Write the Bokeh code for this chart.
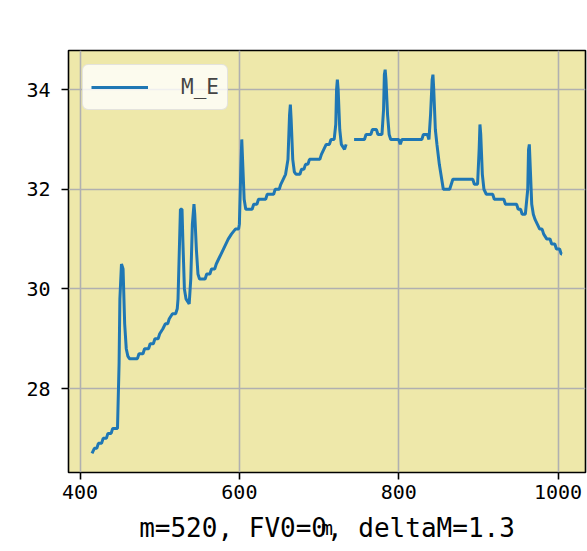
import math
from bokeh.plotting import figure
from bokeh.models import Range1d, FixedTicker, LinearAxis
from bokeh.embed import file_html
from bokeh.resources import INLINE

NAN = float("nan")

m_vals = [415, 418, 421, 423, 427, 429, 433, 435, 439, 441, 447, 449, 450, 452, 454, 456, 458, 460, 462,
          472, 474, 479, 481, 486, 488, 492, 494, 498, 500, 504, 507, 510, 512, 516, 520, 522, 523, 525,
          526, 528, 529, 531, 533, 535, 537, 539, 541, 543, 544, 546, 548, 550, 557, 559, 563, 565, 569,
          571, 574, 577, 580, 583, 586, 590, 595, 599, 600, 602, 603, 604, 606, 608, 616, 618, 622, 624,
          633, 635, 643, 645, 650, 652, 655, 658, 661, 663, 664, 665, 667, 669, 671, 676, 678, 681, 683,
          686, 688, 701, 703, 706, 709, 713, 715, 719, 721, 722, 723, 724, 726, 728, 730, 732, 734, 739,
          744, 757, 759, 765, 767, 772, 774, 779, 781, 782, 783, 784, 786, 788, 790, 800, 802, 804, 829,
          831, 836, 838, 840, 842, 843, 844, 846, 848, 851, 854, 856, 864, 866, 868, 893, 895, 899, 901,
          902, 903, 905, 907, 910, 918, 920, 932, 934, 948, 950, 953, 955, 959, 962, 963, 964, 965, 967,
          969, 971, 974, 977, 980, 982, 986, 990, 992, 996, 998, 1002, 1004, 1005]

me_vals = [26.7, 26.8, 26.8, 26.9, 26.9, 27.0, 27.0, 27.1, 27.1, 27.2, 27.2, 28.5, 29.8, 30.5, 30.4, 29.3, 28.8, 28.65, 28.6,
           28.6, 28.7, 28.7, 28.8, 28.8, 28.9, 28.9, 29.0, 29.0, 29.1, 29.2, 29.3, 29.3, 29.4, 29.5, 29.5, 29.6, 29.8, 31.0,
           31.6, 31.6, 31.0, 30.0, 29.8, 29.75, 29.7, 30.2, 31.3, 31.7, 31.5, 30.8, 30.3, 30.2, 30.2, 30.3, 30.3, 30.4, 30.4,
           30.5, 30.6, 30.7, 30.8, 30.9, 31.0, 31.1, 31.2, 31.2, 31.3, 32.5, 33.0, 32.6, 31.8, 31.6, 31.6, 31.7, 31.7, 31.8,
           31.8, 31.9, 31.9, 32.0, 32.0, 32.1, 32.2, 32.3, 32.6, 33.5, 33.7, 33.4, 32.6, 32.35, 32.3, 32.3, 32.4, 32.4, 32.5,
           32.5, 32.6, 32.6, 32.7, 32.8, 32.9, 32.9, 33.0, 33.0, 33.3, 34.0, 34.2, 34.0, 33.2, 32.9, 32.85, 32.8, 32.9, NAN,
           33.0, 33.0, 33.1, 33.1, 33.2, 33.2, 33.1, 33.1, 33.6, 34.3, 34.4, 34.2, 33.5, 33.1, 33.0, 33.0, 32.9, 33.0, 33.0,
           33.1, 33.1, 33.0, 33.5, 34.2, 34.3, 34.0, 33.2, 32.9, 32.5, 32.2, 32.0, 32.0, 32.1, 32.2, 32.2, 32.1, 32.1, 32.8,
           33.3, 33.1, 32.3, 32.0, 31.9, 31.9, 31.8, 31.8, 31.7, 31.7, 31.6, 31.6, 31.5, 31.5, 32.0, 32.8, 32.9, 32.5, 31.7,
           31.5, 31.4, 31.3, 31.2, 31.2, 31.1, 31.0, 31.0, 30.9, 30.9, 30.8, 30.8, 30.7, 30.7]

x_ticks = [400, 600, 800, 1000]
y_ticks = [28, 30, 32, 34]
series_name = "M_E"
x_label = "m"
caption = "m=520, FV0=0, deltaM=1.3"

finite = [v for v in me_vals if not math.isnan(v)]
xlo, xhi = min(m_vals), max(m_vals)
ylo, yhi = min(finite), max(finite)
xpad = (xhi - xlo) * 0.05
ypad = (yhi - ylo) * 0.05
y0, y1 = ylo - ypad, yhi + ypad

p = figure(width=587, height=551, output_backend="svg", toolbar_location=None,
           x_range=Range1d(xlo - xpad, xhi + xpad), y_range=Range1d(y0, y1),
           min_border_left=68, min_border_right=2, min_border_top=50, min_border_bottom=79)

p.background_fill_color = "#eee8aa"
p.border_fill_color = "white"
p.outline_line_color = "black"
p.outline_line_width = 1.6

p.line(m_vals, me_vals, line_color="#1f77b4", line_width=3, legend_label=series_name)

p.xaxis.ticker = FixedTicker(ticks=x_ticks)
p.yaxis.ticker = FixedTicker(ticks=y_ticks)
for ax in (p.xaxis, p.yaxis):
    ax.axis_line_color = None
    ax.major_tick_out = 7
    ax.major_tick_in = 0
    ax.minor_tick_out = 0
    ax.minor_tick_in = 0
    ax.major_tick_line_width = 1.6
    ax.major_tick_line_color = "black"
    ax.major_label_text_font = "DejaVu Sans Mono"
    ax.major_label_text_font_size = "20px"
    ax.major_label_text_color = "black"
p.yaxis.major_label_standoff = 11
p.xaxis.major_label_standoff = 5
p.xaxis.axis_label = x_label
p.xaxis.axis_label_text_font = "DejaVu Sans Mono"
p.xaxis.axis_label_text_font_size = "20px"
p.xaxis.axis_label_text_font_style = "normal"
p.xaxis.axis_label_text_color = "black"
p.xaxis.axis_label_standoff = 14

# second, tick-less axis below that only carries the caption (pulled up over the "m" label)
cap_axis = LinearAxis(ticker=FixedTicker(ticks=[]), axis_line_color=None,
                      major_tick_out=0, major_tick_in=0, minor_tick_out=0, minor_tick_in=0,
                      major_label_standoff=0, major_label_text_font_size="0px",
                      axis_label=caption, axis_label_standoff=-30,
                      axis_label_text_font="DejaVu Sans Mono", axis_label_text_font_size="26px",
                      axis_label_text_font_style="normal", axis_label_text_color="black")
p.add_layout(cap_axis, "below")

p.grid.grid_line_color = "#b0b0b0"
p.grid.grid_line_width = 1.6

lg = p.legend[0]
lg.location = "top_left"
lg.margin = 14
lg.padding = 8
lg.spacing = 0
lg.glyph_width = 57
lg.glyph_height = 28
lg.label_height = 28
lg.label_standoff = 33
lg.label_text_font = "DejaVu Sans Mono"
lg.label_text_font_size = "21px"
lg.background_fill_color = "white"
lg.background_fill_alpha = 0.8
lg.border_line_color = "#cccccc"
lg.border_line_width = 1.6
lg.border_radius = 6

open("out.html", "w").write(file_html(p, INLINE))
